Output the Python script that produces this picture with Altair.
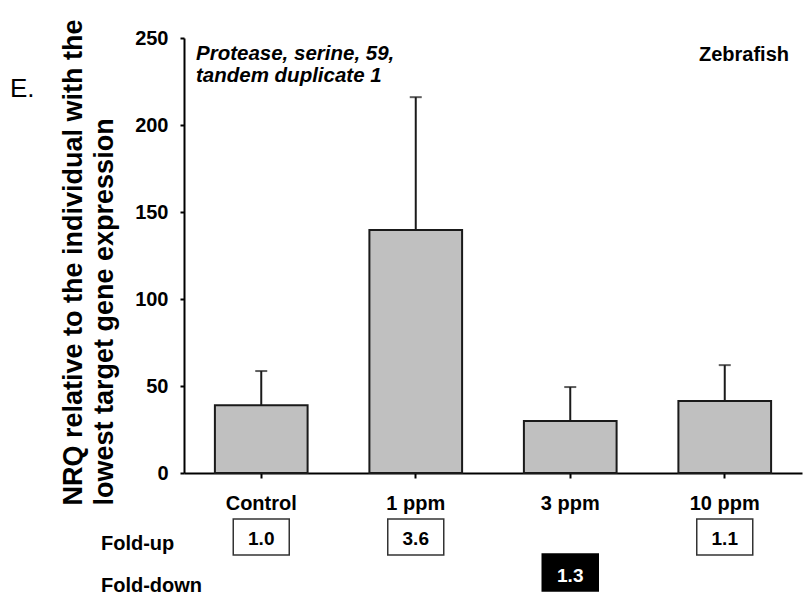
import altair as alt
import pandas as pd

categories = ["Control", "1 ppm", "3 ppm", "10 ppm"]
nrq_mean = [39.0, 139.7, 29.9, 41.4]
nrq_sd = [19.6, 76.3, 19.5, 20.6]
fold_up = [1.0, 3.6, None, 1.1]
fold_down = [None, None, 1.3, None]
y_ticks = [0, 50, 100, 150, 200, 250]

FONT = "Liberation Sans"

df = pd.DataFrame({"cat": categories, "mean": nrq_mean, "sd": nrq_sd})
df["upper"] = df["mean"] + df["sd"]
up_df = pd.DataFrame({"cat": categories, "v": fold_up}).dropna()
down_df = pd.DataFrame({"cat": categories, "v": fold_down}).dropna()
one = pd.DataFrame({"a": [0]})

xenc = alt.X(
    "cat:N", sort=categories,
    scale=alt.Scale(paddingInner=0.4, paddingOuter=0.2),
    axis=alt.Axis(title=None, labelAngle=0, labelFont=FONT, labelFontSize=20,
                  labelFontWeight="bold", labelColor="black", labelPadding=15,
                  tickSize=5, tickWidth=2, tickColor="black",
                  domainColor="black", domainWidth=2, grid=False),
)
yscale = alt.Scale(domain=[0, 250], nice=False)
yaxis = alt.Axis(
    values=y_ticks,
    title=["NRQ relative to the individual with the", "lowest target gene expression"],
    titleFont=FONT, titleFontSize=27, titleFontWeight="bold", titleColor="black",
    titleAngle=270, titleAlign="left", titleBaseline="alphabetic",
    titleX=-103, titleY=467, titleLineHeight=31,
    labelFont=FONT, labelFontSize=20, labelFontWeight="bold", labelColor="black",
    labelPadding=12, tickSize=4, tickWidth=2, tickColor="black",
    domainColor="black", domainWidth=2, grid=False,
)

bars = alt.Chart(df).mark_bar(fill="#c0c0c0", stroke="#1a1a1a", strokeWidth=2).encode(
    x=xenc, y=alt.Y("mean:Q", scale=yscale, axis=yaxis)
)
err = alt.Chart(df).mark_rule(color="#1a1a1a", strokeWidth=2).encode(
    x=xenc, y=alt.Y("mean:Q", scale=yscale, axis=yaxis), y2="upper:Q"
)
cap = alt.Chart(df).mark_tick(color="#1a1a1a", orient="horizontal", size=12, thickness=2).encode(
    x=xenc, y=alt.Y("upper:Q", scale=yscale, axis=yaxis)
)

up_box = alt.Chart(up_df).mark_bar(fill="white", stroke="#333333", strokeWidth=1.5, width=56).encode(
    x=xenc, y=alt.value(481), y2=alt.value(517)
)
up_txt = alt.Chart(up_df).mark_text(font=FONT, fontSize=19, fontWeight="bold", color="black",
                                    baseline="alphabetic").encode(
    x=xenc, y=alt.value(507), text=alt.Text("v:Q", format=".1f")
)
down_box = alt.Chart(down_df).mark_bar(fill="black", stroke="black", strokeWidth=1.5, width=56).encode(
    x=xenc, y=alt.value(516), y2=alt.value(553)
)
down_txt = alt.Chart(down_df).mark_text(font=FONT, fontSize=19, fontWeight="bold", color="white",
                                        baseline="alphabetic").encode(
    x=xenc, y=alt.value(544), text=alt.Text("v:Q", format=".1f")
)

def label(text, x, y, size=20, weight="bold", style="normal", align="left", lh=22):
    return alt.Chart(one).mark_text(
        text=text, font=FONT, fontSize=size, fontWeight=weight, fontStyle=style,
        align=align, baseline="alphabetic", color="black", lineHeight=lh
    ).encode(x=alt.value(x), y=alt.value(y))

gene = label(["Protease, serine, 59,", "tandem duplicate 1"], 12, 22, size=20.5, style="italic")
species = label("Zebrafish", 605, 23, align="right")
panel = label("E.", -174, 59, size=26, weight="normal")
lab_up = label("Fold-up", -83, 512)
lab_down = label("Fold-down", -83, 554)

chart = alt.layer(
    bars, err, cap, up_box, up_txt, down_box, down_txt,
    gene, species, panel, lab_up, lab_down
).properties(
    width=618, height=435,
    autosize=alt.AutoSizeParams(type="none"),
    padding={"left": 184, "top": 38, "right": 1, "bottom": 123},
    background="white",
).configure_view(stroke=None)

chart.save("out.html", embed_options={"renderer": "svg", "actions": False})
